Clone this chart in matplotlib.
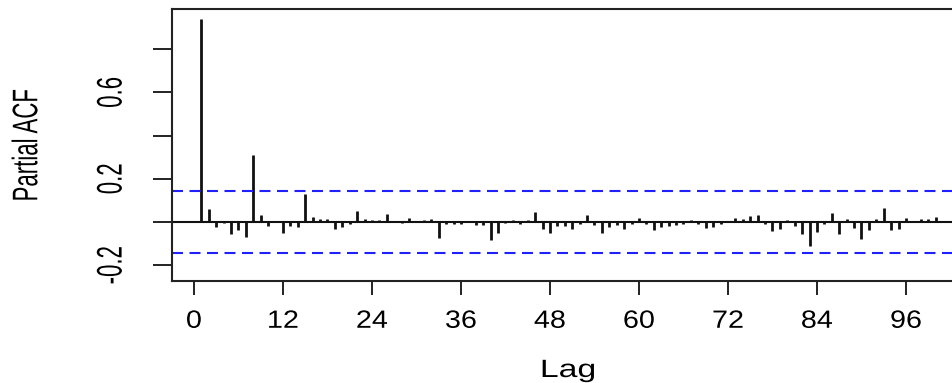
import numpy as np
import matplotlib
matplotlib.use("Agg")
import matplotlib.pyplot as plt
from matplotlib.patheffects import AbstractPathEffect
from matplotlib.transforms import Affine2D

plt.rcParams["font.family"] = ["Liberation Sans", "DejaVu Sans"]
plt.rcParams["lines.scale_dashes"] = False


class WideGlyphs(AbstractPathEffect):
    """Draw text with its glyphs widened horizontally about their centre."""

    def __init__(self, sx=1.0, sy=1.0):
        super().__init__()
        self.sx, self.sy = sx, sy

    def draw_path(self, renderer, gc, tpath, affine, rgbFace=None):
        bb = tpath.get_extents(affine)
        cx, cy = bb.x0 + bb.width / 2, bb.y0 + bb.height / 2
        stretch = (Affine2D().translate(-cx, -cy)
                   .scale(self.sx, self.sy).translate(cx, cy))
        renderer.draw_path(gc, tpath, affine + stretch, rgbFace)


# Partial autocorrelations for lags 1..100
lags = np.arange(1, 101)
pacf = [
    0.940, 0.059, -0.022, -0.004, -0.057, -0.039, -0.071, 0.310, 0.031, -0.017,
    0.003, -0.052, -0.017, -0.023, 0.128, 0.024, 0.013, 0.012, -0.034, -0.023,
    -0.009, 0.050, 0.012, 0.009, 0.008, 0.039, 0.002, -0.003, 0.020, 0.002,
    0.011, 0.014, -0.076, -0.011, -0.009, -0.008, 0.006, -0.015, -0.015, -0.081,
    -0.050, -0.003, 0.009, -0.008, 0.009, 0.045, -0.034, -0.050, -0.017, -0.017,
    -0.034, -0.010, 0.032, -0.015, -0.051, -0.023, -0.015, -0.034, -0.009, 0.020,
    -0.009, -0.039, -0.022, -0.020, -0.015, -0.009, 0.009, -0.009, -0.028, -0.022,
    -0.009, 0.003, 0.019, 0.014, 0.026, 0.032, -0.011, -0.040, -0.034, 0.008,
    -0.020, -0.057, -0.111, -0.046, -0.009, 0.044, -0.057, 0.012, -0.026, -0.080,
    -0.039, 0.012, 0.067, -0.039, -0.034, 0.019, 0.007, 0.012, 0.012, 0.025,
]
conf_limit = 0.145

xticks = [0, 12, 24, 36, 48, 60, 72, 84, 96]
yticks = [-0.2, 0.0, 0.2, 0.4, 0.6, 0.8]
ytick_labels = ["-0.2", "", "0.2", "", "0.6", ""]

W, H = 953, 383
fig = plt.figure(figsize=(W / 100, H / 100), dpi=100)
ax = fig.add_axes([172 / W, 102 / H, 793 / W, 272 / H])

ax.vlines(lags, 0, pacf, color="#111111", lw=2.0)
ax.axhline(0, color="#111111", lw=1.5)
for c in (conf_limit, -conf_limit):
    ax.axhline(c, color="#2020ff", lw=1.5, dashes=(7.9, 4.7))

for s in ax.spines.values():
    s.set_linewidth(1.5)
    s.set_color("#222222")

x_fx = [WideGlyphs(sx=1.15)]
y_fx = [WideGlyphs(sx=1.6)]

ax.set_xticks(xticks)
ax.set_xticklabels([str(t) for t in xticks], fontsize=18, path_effects=x_fx)
ax.set_yticks(yticks)
ax.set_yticklabels(ytick_labels, fontsize=16, rotation=90, va="center",
                   path_effects=y_fx)
ax.tick_params(axis="x", length=10, width=1.4, pad=10, color="#222222")
ax.tick_params(axis="y", length=14, width=1.4, pad=22, color="#222222")

ax.set_xlim(-2.96, 103.96)
ax.set_ylim(-0.273, 0.986)

ax.set_xlabel("Lag", fontsize=18, va="center", path_effects=[WideGlyphs(sx=1.35)])
ax.xaxis.set_label_coords(0.4994, (281 - 370) / 272)
ax.set_ylabel("Partial ACF", fontsize=16, va="center", path_effects=y_fx)
ax.yaxis.set_label_coords((27 - 172) / 793, 0.5)

fig.savefig("out.png", dpi=100)
